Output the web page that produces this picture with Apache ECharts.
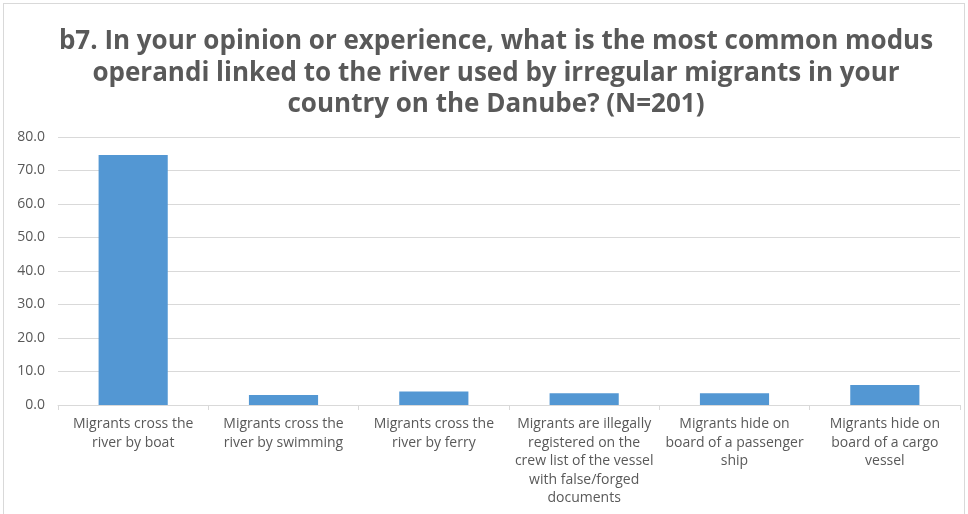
<!DOCTYPE html>
<html>
<head>
<meta charset="utf-8">
<script src="https://cdn.jsdelivr.net/npm/echarts@6/dist/echarts.min.js"></script>
<style>
  html, body { margin: 0; padding: 0; background: #fff; }
  #frame { position: absolute; left: 3px; top: 3px; width: 962px; height: 520px; border: 1px solid #d9d9d9; box-sizing: border-box; }
  #chart { position: absolute; left: 0; top: 0; width: 968px; height: 514px; }
</style>
</head>
<body>
<div id="frame"></div>
<div id="chart"></div>
<script>
var categories = [
  'Migrants cross the\nriver by boat',
  'Migrants cross the\nriver by swimming',
  'Migrants cross the\nriver by ferry',
  'Migrants are illegally\nregistered on the\ncrew list of the vessel\nwith false/forged\ndocuments',
  'Migrants hide on\nboard of a passenger\nship',
  'Migrants hide on\nboard of a cargo\nvessel'
];
var values = [74.6, 3.0, 4.0, 3.5, 3.5, 6.0];
var titleText = 'b7. In your opinion or experience, what is the most common modus\noperandi linked to the river used by irregular migrants in your\ncountry on the Danube? (N=201)';

var chart = echarts.init(document.getElementById('chart'));
var option = {
  animation: false,
  title: {
    text: titleText,
    left: 491,
    top: 21,
    textAlign: 'center',
    textStyle: {
      fontFamily: 'Open Sans',
      fontWeight: 'bold',
      fontSize: 26,
      lineHeight: 31.5,
      color: '#595959'
    }
  },
  grid: { left: 58, right: 8, top: 137, bottom: 109, containLabel: false },
  xAxis: {
    type: 'category',
    data: categories,
    axisLine: { lineStyle: { color: '#d9d9d9' } },
    axisTick: { show: true, length: 5, lineStyle: { color: '#d9d9d9' } },
    axisLabel: {
      interval: 0,
      margin: 10,
      color: '#595959',
      fontFamily: 'Open Sans',
      fontSize: 14,
      lineHeight: 18.5
    }
  },
  yAxis: {
    type: 'value',
    min: 0,
    max: 80,
    interval: 10,
    axisLine: { show: false },
    axisTick: { show: false },
    splitLine: { lineStyle: { color: '#d9d9d9', width: 1 } },
    axisLabel: {
      color: '#595959',
      fontFamily: 'Open Sans',
      fontSize: 14,
      margin: 13,
      formatter: function (v) { return v.toFixed(1); }
    }
  },
  series: [{
    type: 'bar',
    data: values,
    barWidth: '46%',
    itemStyle: { color: '#5397d3' }
  }]
};
chart.setOption(option);
</script>
</body>
</html>
